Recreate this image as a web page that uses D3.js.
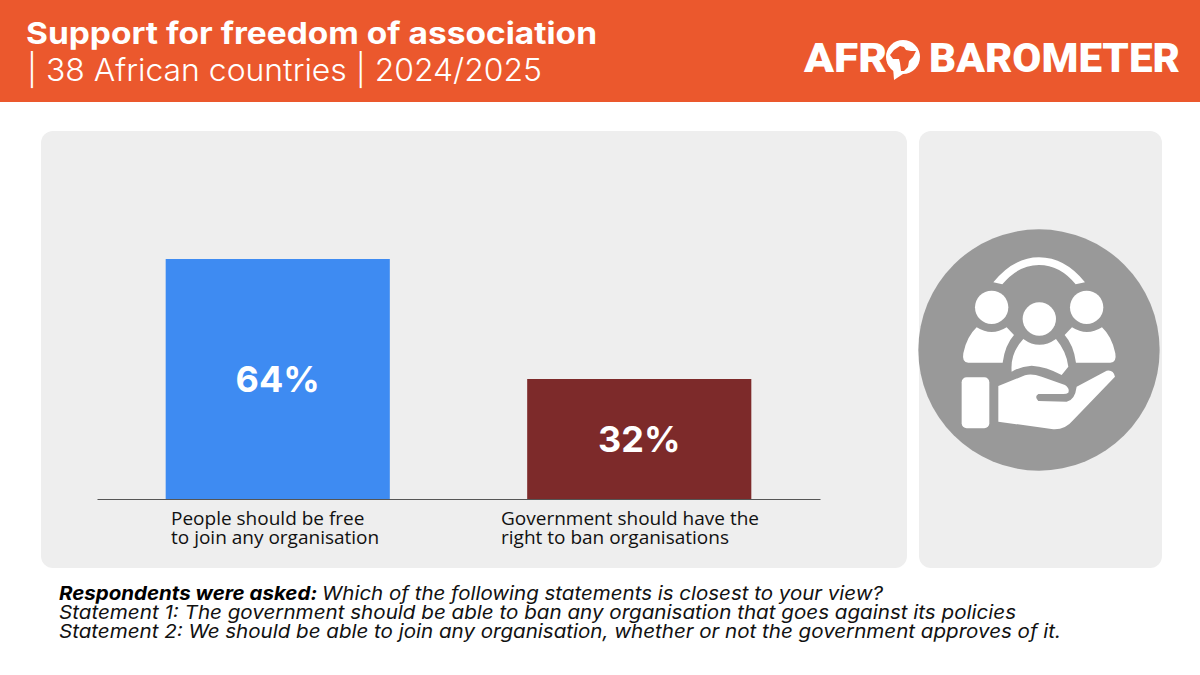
<!DOCTYPE html>
<html>
<head>
<meta charset="utf-8">
<script src="https://cdn.jsdelivr.net/npm/d3@7"></script>
<style>
  html, body { margin: 0; padding: 0; background: #fff; }
  svg { display: block; }
  text { font-family: Inter, "Open Sans", sans-serif; }
</style>
</head>
<body>
<div id="chart"></div>
<script>
const categories = ["People should be free|to join any organisation", "Government should have the|right to ban organisations"];
const values = [64, 32];
const barColors = ["#3E8BF2", "#7D2A2A"];
const titleText = "Support for freedom of association";
const subtitleText = "| 38 African countries | 2024/2025";
const questionLines = [
  "Which of the following statements is closest to your view?",
  "Statement 1: The government should be able to ban any organisation that goes against its policies",
  "Statement 2: We should be able to join any organisation, whether or not the government approves of it."
];

const width = 1200, height = 675;
const svg = d3.select("#chart").append("svg")
  .attr("width", width)
  .attr("height", height);

svg.append("rect").attr("width", width).attr("height", height).attr("fill", "#fff");

// Header band
svg.append("rect").attr("width", width).attr("height", 102).attr("fill", "#EB582D");
svg.append("text").attr("x", 26).attr("y", 44)
  .attr("font-size", 30).attr("font-weight", 700).attr("fill", "#fff")
  .attr("textLength", 571).attr("lengthAdjust", "spacingAndGlyphs")
  .text(titleText);
svg.append("text").attr("x", 27).attr("y", 81)
  .attr("font-size", 31).attr("font-weight", 300).attr("fill", "#fff")
  .attr("textLength", 515).attr("lengthAdjust", "spacingAndGlyphs")
  .text(subtitleText);

// Logo
const logo = svg.append("g");
logo.selectAll("text")
  .data([{t: "AFR", x: 804, w: 83}, {t: "BAROMETER", x: 929, w: 251}])
  .enter().append("text")
  .attr("x", d => d.x).attr("y", 72)
  .attr("font-size", 41).attr("font-weight", 900).attr("fill", "#fff")
  .style("font-family", "Roboto, Inter, sans-serif")
  .attr("textLength", d => d.w).attr("lengthAdjust", "spacingAndGlyphs")
  .text(d => d.t);
const globe = logo.append("g").attr("transform", "translate(903,57)");
globe.append("circle").attr("r", 17).attr("fill", "#fff");
globe.append("path").attr("fill", "#fff").attr("d", "M-10 10 L-9 23 L3 15 Z");
globe.append("path").attr("fill", "#EB582D")
  .attr("d", "M-9 -7 L-3 -11 L1 -10 L3 -7 L8 -6 L13 -6 L10 0 L6 4 L5 10 L1 14 L-2 14 L-3 6 L-4 2 L-10 2 L-13 -2 Z");

// Panels
svg.append("rect").attr("x", 41).attr("y", 131).attr("width", 866).attr("height", 437).attr("rx", 12).attr("fill", "#EEEEEE");
svg.append("rect").attr("x", 919).attr("y", 131).attr("width", 243).attr("height", 437).attr("rx", 12).attr("fill", "#EEEEEE");

// Bars
const x = d3.scaleBand().domain(categories).range([97, 820]).paddingInner(0.38).paddingOuter(0.19);
const y = d3.scaleLinear().domain([0, 100]).range([499, 124]);

svg.append("g").selectAll("rect")
  .data(values)
  .enter().append("rect")
  .attr("x", (d, i) => x(categories[i]))
  .attr("y", d => y(d))
  .attr("width", x.bandwidth())
  .attr("height", d => y(0) - y(d))
  .attr("fill", (d, i) => barColors[i]);

svg.append("g").selectAll("text")
  .data(values)
  .enter().append("text")
  .attr("x", (d, i) => x(categories[i]) + x.bandwidth() / 2)
  .attr("y", d => (y(d) + y(0)) / 2 + 13)
  .attr("text-anchor", "middle")
  .attr("font-size", 36).attr("font-weight", 700).attr("fill", "#fff")
  .text(d => d + "%");

// Axis
const axis = svg.append("g")
  .attr("transform", "translate(0," + y(0) + ")")
  .call(d3.axisBottom(x).tickSize(0).tickFormat(""));
axis.select(".domain").attr("stroke", "#555").attr("stroke-width", 1);

const labelLeft = [171, 501];
svg.append("g").selectAll("text")
  .data(categories)
  .enter().append("text")
  .attr("font-size", 19).attr("fill", "#111")
  .style("font-family", "'Open Sans', sans-serif")
  .each(function (d, i) {
    d3.select(this).selectAll("tspan")
      .data(d.split("|"))
      .enter().append("tspan")
      .attr("x", labelLeft[i])
      .attr("y", (t, k) => 525 + k * 19)
      .text(t => t);
  });

// Icon, drawn in a 780 box then scaled down
const icon = svg.append("g").attr("transform", "translate(910,220) scale(0.3333)");
icon.append("circle").attr("cx", 387).attr("cy", 390).attr("r", 362).attr("fill", "#999999");
const iconG = icon.append("g").attr("fill", "#fff");
iconG.append("path").attr("d", "M250 187 Q310 112 387 112 Q465 112 525 187 L497 193 Q450 135 387 135 Q325 135 277 193 Z");
iconG.selectAll("circle")
  .data([[245, 262], [530, 262], [388, 297]])
  .enter().append("circle")
  .attr("cx", d => d[0]).attr("cy", d => d[1]).attr("r", 50);
iconG.append("path").attr("d", "M200 322 Q245 350 290 322 L312 345 Q285 375 278 428 L175 428 Q155 428 160 400 Q170 350 200 322 Z");
iconG.append("path").attr("d", "M576 322 Q531 350 486 322 L464 345 Q491 375 498 428 L601 428 Q621 428 616 400 Q606 350 576 322 Z");
iconG.append("path").attr("d", "M340 357 Q388 392 438 357 Q470 395 475 440 L455 465 Q410 440 365 437 Q330 440 305 455 Q300 400 340 357 Z");
iconG.append("rect").attr("x", 155).attr("y", 472).attr("width", 83).attr("height", 153).attr("rx", 15);
iconG.append("path").attr("d", "M265 498 L345 466 Q365 460 395 470 L465 495 Q480 505 475 518 Q470 522 460 522 L385 522 Q372 530 385 543 L470 545 Q495 540 500 500 L590 452 Q610 448 615 470 L490 600 Q465 630 430 628 L265 605 Z");

// Footnote
const note = svg.append("g").attr("fill", "#111").attr("font-size", 19).attr("font-style", "italic")
  .style("font-family", "'Open Sans', sans-serif");
const first = note.append("text").attr("x", 59).attr("y", 600)
  .attr("textLength", 824).attr("lengthAdjust", "spacingAndGlyphs");
first.append("tspan").attr("font-weight", 700).attr("fill", "#000").text("Respondents were asked: ");
first.append("tspan").text(questionLines[0]);
note.append("text").attr("x", 59).attr("y", 619)
  .attr("textLength", 957).attr("lengthAdjust", "spacingAndGlyphs").text(questionLines[1]);
note.append("text").attr("x", 59).attr("y", 638)
  .attr("textLength", 1002).attr("lengthAdjust", "spacingAndGlyphs").text(questionLines[2]);
</script>
</body>
</html>
